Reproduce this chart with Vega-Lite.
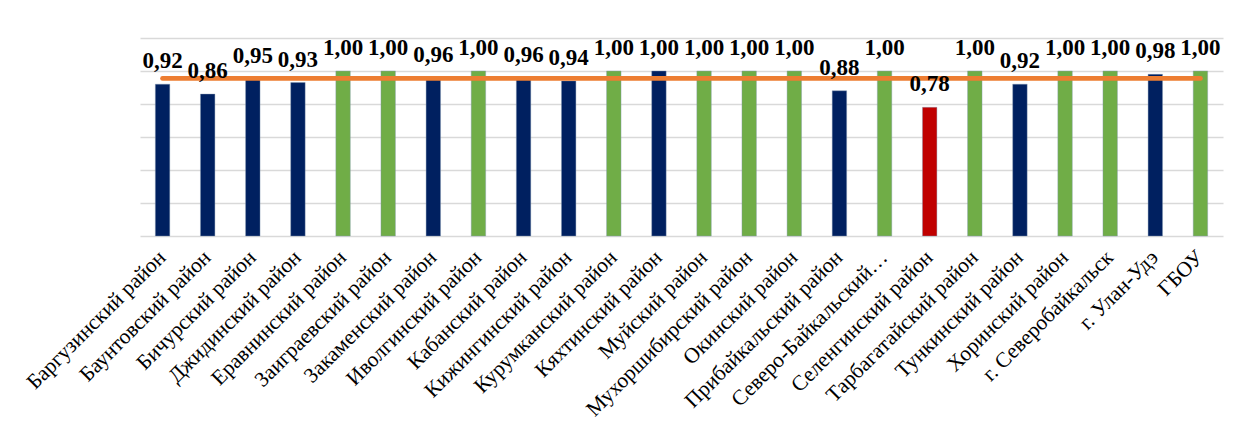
{
  "$schema": "https://vega.github.io/schema/vega-lite/v6.json",
  "autosize": {"type": "none"},
  "width": 1083,
  "height": 198,
  "padding": {"left": 140, "top": 38, "right": 20, "bottom": 198},
  "background": "white",
  "config": {
    "view": {"stroke": null},
    "font": "'Liberation Serif', 'Times New Roman', serif",
    "axisY": {"grid": true, "gridColor": "#D9D9D9", "gridWidth": 1.3, "gridOpacity": 1, "labels": false, "ticks": false, "domain": false, "title": null},
    "locale": {"number": {"decimal": ",", "thousands": " ", "grouping": [3], "currency": ["", " ₽"]}}
  },
  "data": {
    "values": [
      {"name": "Баргузинский район", "value": 0.92, "grp": "ниже", "avg": 0.955},
      {"name": "Баунтовский район", "value": 0.86, "grp": "ниже", "avg": 0.955},
      {"name": "Бичурский район", "value": 0.95, "grp": "ниже", "avg": 0.955},
      {"name": "Джидинский район", "value": 0.93, "grp": "ниже", "avg": 0.955},
      {"name": "Еравнинский район", "value": 1.00, "grp": "полный", "avg": 0.955},
      {"name": "Заиграевский район", "value": 1.00, "grp": "полный", "avg": 0.955},
      {"name": "Закаменский район", "value": 0.96, "grp": "ниже", "avg": 0.955},
      {"name": "Иволгинский район", "value": 1.00, "grp": "полный", "avg": 0.955},
      {"name": "Кабанский район", "value": 0.96, "grp": "ниже", "avg": 0.955},
      {"name": "Кижингинский район", "value": 0.94, "grp": "ниже", "avg": 0.955},
      {"name": "Курумканский район", "value": 1.00, "grp": "полный", "avg": 0.955},
      {"name": "Кяхтинский район", "value": 1.00, "grp": "ниже", "avg": 0.955},
      {"name": "Муйский район", "value": 1.00, "grp": "полный", "avg": 0.955},
      {"name": "Мухоршибирский район", "value": 1.00, "grp": "полный", "avg": 0.955},
      {"name": "Окинский район", "value": 1.00, "grp": "полный", "avg": 0.955},
      {"name": "Прибайкальский район", "value": 0.88, "grp": "ниже", "avg": 0.955},
      {"name": "Северо-Байкальский…", "value": 1.00, "grp": "полный", "avg": 0.955},
      {"name": "Селенгинский район", "value": 0.78, "grp": "минимум", "avg": 0.955},
      {"name": "Тарбагатайский район", "value": 1.00, "grp": "полный", "avg": 0.955},
      {"name": "Тункинский район", "value": 0.92, "grp": "ниже", "avg": 0.955},
      {"name": "Хоринский район", "value": 1.00, "grp": "полный", "avg": 0.955},
      {"name": "г. Северобайкальск", "value": 1.00, "grp": "полный", "avg": 0.955},
      {"name": "г. Улан-Удэ", "value": 0.98, "grp": "ниже", "avg": 0.955},
      {"name": "ГБОУ", "value": 1.00, "grp": "полный", "avg": 0.955}
    ]
  },
  "encoding": {
    "x": {
      "field": "name",
      "type": "nominal",
      "sort": null,
      "title": null,
      "scale": {"paddingInner": 0.68, "paddingOuter": 0.34},
      "axis": {
        "labelAngle": -45,
        "labelAlign": "right",
        "labelBaseline": "middle",
        "labelPadding": 18,
        "labelFont": "'Liberation Serif', 'Times New Roman', serif",
        "labelFontSize": 21.5,
        "labelColor": "#000000",
        "labelLimit": 400,
        "ticks": false,
        "domain": false,
        "grid": false
      }
    }
  },
  "layer": [
    {
      "mark": {"type": "bar", "stroke": "#8497B0", "strokeWidth": 0.4},
      "encoding": {
        "y": {
          "field": "value",
          "type": "quantitative",
          "scale": {"domain": [0, 1.2], "nice": false},
          "axis": {"tickCount": 6}
        },
        "color": {
          "field": "grp",
          "type": "nominal",
          "scale": {"domain": ["ниже", "полный", "минимум"], "range": ["#002060", "#70AD47", "#C00000"]},
          "legend": null
        }
      }
    },
    {
      "mark": {"type": "line", "color": "#ED7D31", "strokeWidth": 4.8, "strokeCap": "round"},
      "encoding": {
        "y": {"field": "avg", "type": "quantitative", "axis": {"tickCount": 6}}
      }
    },
    {
      "mark": {
        "type": "text",
        "baseline": "alphabetic",
        "dy": -16,
        "font": "'Liberation Serif', 'Times New Roman', serif",
        "fontSize": 23,
        "fontWeight": "bold",
        "color": "#000000"
      },
      "encoding": {
        "y": {"field": "value", "type": "quantitative", "axis": {"tickCount": 6}},
        "text": {"field": "value", "type": "quantitative", "format": ".2f"}
      }
    }
  ]
}
